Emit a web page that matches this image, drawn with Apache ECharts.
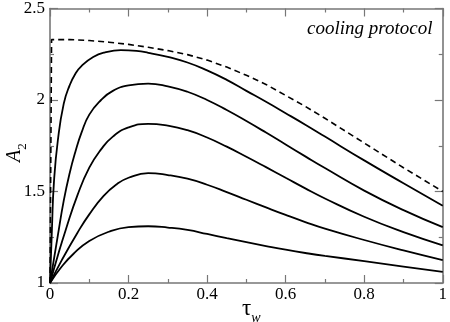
<!DOCTYPE html>
<html>
<head>
<meta charset="utf-8">
<script src="https://cdn.jsdelivr.net/npm/echarts@6/dist/echarts.min.js"></script>
<style>
html,body{margin:0;padding:0;background:#fff;}
#main{width:450px;height:322px;}
</style>
</head>
<body>
<div id="main"></div>
<script>
var tauDash = [0, 0.004, 0.05, 0.1, 0.15, 0.2, 0.25, 0.3, 0.35, 0.4, 0.45, 0.5, 0.55, 0.6, 0.65, 0.7, 0.8, 0.9, 1.0];
var a2Dash  = [1, 2.33, 2.33, 2.325, 2.316, 2.304, 2.288, 2.27, 2.248, 2.218, 2.18, 2.135, 2.085, 2.025, 1.965, 1.9, 1.765, 1.63, 1.5];

var tau1 = [0, 0.005, 0.01, 0.02, 0.035, 0.05, 0.065, 0.08, 0.11, 0.14, 0.18, 0.22, 0.25, 0.3, 0.35, 0.4, 0.45, 0.5, 0.55, 0.6, 0.65, 0.7, 0.8, 0.9, 1.0];
var a2_1 = [1, 1.3, 1.55, 1.78, 1.98, 2.08, 2.145, 2.185, 2.235, 2.26, 2.272, 2.268, 2.258, 2.235, 2.205, 2.162, 2.11, 2.05, 1.99, 1.928, 1.865, 1.8, 1.67, 1.545, 1.422];

var tau2 = [0, 0.01, 0.02, 0.035, 0.05, 0.065, 0.08, 0.1, 0.13, 0.16, 0.2, 0.25, 0.3, 0.35, 0.4, 0.45, 0.5, 0.55, 0.6, 0.65, 0.7, 0.8, 0.9, 1.0];
var a2_2 = [1, 1.13, 1.26, 1.45, 1.6, 1.72, 1.82, 1.92, 2.0, 2.05, 2.08, 2.09, 2.075, 2.045, 2.0, 1.945, 1.885, 1.822, 1.757, 1.692, 1.628, 1.505, 1.398, 1.305];

var tau3 = [0, 0.02, 0.04, 0.07, 0.1, 0.13, 0.16, 0.2, 0.25, 0.3, 0.35, 0.4, 0.45, 0.5, 0.55, 0.6, 0.65, 0.7, 0.8, 0.9, 1.0];
var a2_3 = [1, 1.15, 1.29, 1.48, 1.63, 1.73, 1.8, 1.85, 1.87, 1.86, 1.835, 1.795, 1.745, 1.69, 1.633, 1.575, 1.517, 1.462, 1.362, 1.278, 1.206];

var tau4 = [0, 0.03, 0.07, 0.1, 0.136, 0.17, 0.2, 0.25, 0.3, 0.35, 0.4, 0.45, 0.5, 0.55, 0.6, 0.65, 0.7, 0.8, 0.9, 1.0];
var a2_4 = [1, 1.125, 1.275, 1.375, 1.475, 1.54, 1.575, 1.6, 1.59, 1.57, 1.537, 1.497, 1.455, 1.413, 1.372, 1.333, 1.297, 1.235, 1.178, 1.125];

var tau5 = [0, 0.03, 0.06, 0.1, 0.15, 0.2, 0.25, 0.3, 0.35, 0.4, 0.45, 0.5, 0.55, 0.6, 0.65, 0.7, 0.8, 0.9, 1.0];
var a2_5 = [1, 1.09, 1.16, 1.23, 1.28, 1.305, 1.31, 1.303, 1.29, 1.268, 1.245, 1.223, 1.202, 1.182, 1.164, 1.148, 1.12, 1.09, 1.061];

var xTicks = [0, 0.2, 0.4, 0.6, 0.8, 1];
var yTicks = [1, 1.5, 2, 2.5];
var noteText = 'cooling protocol';

function pairs(xs, ys){
	var out = [];
	for (var i = 0; i < xs.length; i++) out.push([xs[i], ys[i]]);
	return out;
}

var serif = 'Liberation Serif';
var frameColor = '#777';

function solid(xs, ys){
	return {
		type: 'line', data: pairs(xs, ys), showSymbol: false, smooth: 0.5,
		lineStyle: {color: '#000', width: 1.8}
	};
}

function axisBase(pos, show, isX){
	return {
		type: 'value', position: pos,
		min: isX ? 0 : 1, max: isX ? 1 : 2.5, interval: isX ? 0.2 : 0.5,
		axisLine: {show: true, onZero: false, lineStyle: {color: frameColor, width: 1.6}},
		axisTick: {show: true, inside: true, length: 8, lineStyle: {color: frameColor, width: 1.2}},
		minorTick: {show: true, splitNumber: 2, length: 4, lineStyle: {color: frameColor, width: 1.2}},
		splitLine: {show: false},
		axisLabel: {
			show: show, color: '#000', fontFamily: serif, fontSize: 17, margin: isX ? 3 : 5,
			formatter: function(v){
				var list = isX ? xTicks : yTicks;
				for (var i = 0; i < list.length; i++) if (Math.abs(list[i] - v) < 1e-9) return String(list[i]);
				return '';
			}
		}
	};
}

var option = {
	animation: false,
	backgroundColor: '#fff',
	grid: {left: 50, right: 4, top: 6, bottom: 39, containLabel: false},
	xAxis: [axisBase('bottom', true, true), axisBase('top', false, true)],
	yAxis: [axisBase('left', true, false), axisBase('right', false, false)],
	series: [
		{
			type: 'line', data: pairs(tauDash, a2Dash), showSymbol: false,
			lineStyle: {color: '#000', width: 1.6, type: [6, 4]}
		},
		solid(tau1, a2_1),
		solid(tau2, a2_2),
		solid(tau3, a2_3),
		solid(tau4, a2_4),
		solid(tau5, a2_5)
	],
	graphic: [
		{
			type: 'text', left: 307, top: 19,
			style: {text: noteText, fontFamily: serif, fontStyle: 'italic', fontSize: 19, fill: '#000'}
		},
		{
			type: 'text', left: 242, top: 297,
			style: {
				text: '{t|τ}{s|w}',
				rich: {
					t: {fontFamily: serif, fontSize: 23, lineHeight: 24, verticalAlign: 'bottom', fill: '#000'},
					s: {fontFamily: serif, fontStyle: 'italic', fontSize: 14, lineHeight: 12, verticalAlign: 'bottom', fill: '#000', padding: [0, 0, -5, 0]}
				}
			}
		},
		{
			type: 'text', x: 3, y: 162, rotation: Math.PI / 2,
			style: {
				text: '{a|A}{s|2}',
				rich: {
					a: {fontFamily: serif, fontStyle: 'italic', fontSize: 20, lineHeight: 22, verticalAlign: 'bottom', fill: '#000'},
					s: {fontFamily: serif, fontSize: 13, lineHeight: 12, verticalAlign: 'bottom', fill: '#000', padding: [0, 0, -4, 0]}
				}
			}
		}
	]
};

var oBox = document.getElementById('main');
var myChart = echarts.init(oBox);
myChart.setOption(option);
</script>
</body>
</html>
